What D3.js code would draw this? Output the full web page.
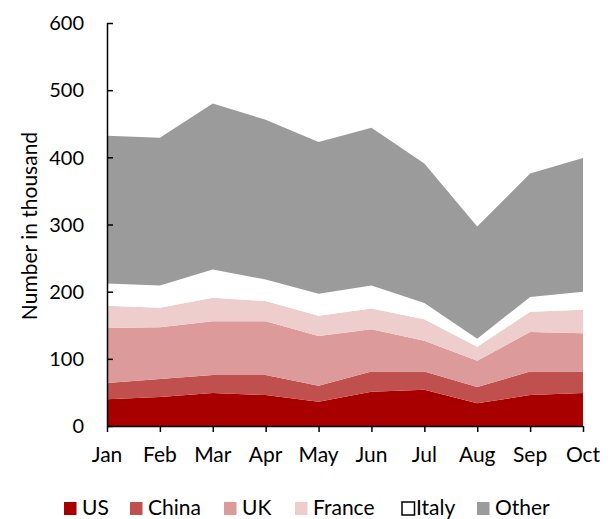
<!DOCTYPE html>
<html><head><meta charset="utf-8">
<script src="https://cdn.jsdelivr.net/npm/d3@7"></script>
<style>body{margin:0;background:#fff}text{font-family:"Lato","Open Sans",sans-serif;fill:#000}</style>
</head><body><svg id="c" width="608" height="519"></svg>
<script>
const months = ["Jan","Feb","Mar","Apr","May","Jun","Jul","Aug","Sep","Oct"];
const seriesNames = ["US","China","UK","France","Italy","Other"];
const US     = [40, 43, 49, 46, 36, 51, 54, 34, 46, 49];
const China  = [24, 27, 27, 30, 24, 30, 27, 24, 35, 32];
const UK     = [82, 77, 80, 80, 74, 63, 46, 39, 59, 57];
const France = [33, 29, 35, 30, 30, 31, 32, 21, 30, 35];
const Italy  = [33, 33, 42, 32, 33, 34, 24, 12, 22, 27];
const Other  = [220, 220, 247, 238, 226, 235, 208, 167, 184, 199];
const yTicks = [0, 100, 200, 300, 400, 500, 600];
const colors = ["#a80000", "#c0504d", "#dc9a9a", "#eecdcd", "#ffffff", "#9b9b9b"];

const values = [US, China, UK, France, Italy, Other];
const rows = months.map((m, i) => {
  const r = {month: m};
  seriesNames.forEach((s, j) => r[s] = values[j][i]);
  return r;
});

const svg = d3.select("#c");
const pL = 107, pR = 583, pT = 23, pB = 426;
const x = d3.scalePoint().domain(months).range([pL, pR]);
const y = d3.scaleLinear().domain([0, 600]).range([pB, pT]);

const stack = d3.stack().keys(seriesNames)(rows);
const area = d3.area().x(d => x(d.data.month)).y0(d => y(d[0])).y1(d => y(d[1]));
svg.append("g").selectAll("path").data(stack).join("path")
  .attr("d", area).attr("fill", (d, i) => colors[i]);

// y axis
const ya = svg.append("g").attr("transform", `translate(${pL},0)`)
  .call(d3.axisRight(y).tickValues(yTicks).tickSize(6).tickFormat(""));
ya.select(".domain").attr("d", `M0.5,${pT}V${pB}`).attr("stroke", "#000").attr("stroke-width", 1.5);
ya.selectAll(".tick line").attr("stroke", "#000").attr("stroke-width", 1.5);
svg.append("g").selectAll("text").data(yTicks).join("text")
  .attr("x", 84).attr("y", d => y(d)).attr("dy", "0.36em")
  .attr("text-anchor", "end").attr("font-size", 20).text(d => d);

// x axis
const xa = svg.append("g").attr("transform", `translate(0,${pB})`)
  .call(d3.axisBottom(x).tickSize(6).tickSizeOuter(0).tickFormat(""));
xa.select(".domain").attr("stroke", "#000").attr("stroke-width", 1.5);
xa.selectAll(".tick line").attr("stroke", "#000").attr("stroke-width", 1.5);
svg.append("g").selectAll("text").data(months).join("text")
  .attr("x", d => x(d)).attr("y", 462)
  .attr("text-anchor", "middle").attr("font-size", 21).text(d => d);

// y title
svg.append("text").attr("transform", "translate(37,226) rotate(-90)")
  .attr("text-anchor", "middle").attr("font-size", 21).text("Number in thousand");

// legend
const legX = [64, 130, 224, 295, 402, 477];
const lg = svg.append("g").selectAll("g").data(seriesNames).join("g")
  .attr("transform", (d, i) => `translate(${legX[i]},502)`);
lg.append("rect").attr("width", 12.5).attr("height", 13)
  .attr("fill", (d, i) => colors[i])
  .attr("stroke", (d, i) => seriesNames[i] === "Italy" ? "#000" : "none").attr("stroke-width", 1.5);
lg.append("text").attr("x", (d, i) => seriesNames[i] === "Italy" ? 14 : 18).attr("y", 13)
  .attr("font-size", 21).text(d => d);
</script></body></html>
